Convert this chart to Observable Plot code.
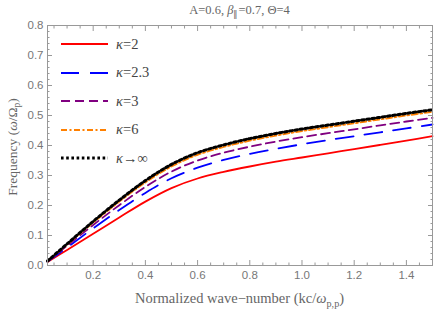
<!DOCTYPE html>
<html>
<head>
<meta charset="utf-8">
<script src="https://cdn.jsdelivr.net/npm/d3@7"></script>
<script src="https://cdn.jsdelivr.net/npm/@observablehq/plot@0.6"></script>
<style>
  html, body { margin: 0; padding: 0; background: #fff; }
  #wrap { position: relative; width: 436px; height: 311px; font-family: "Liberation Serif", "Times New Roman", serif; color: #666; }
  .ovl { position: absolute; white-space: nowrap; font-family: "Liberation Serif", "Times New Roman", serif; }
  #title { left: 47px; top: 3px; width: 385px; text-align: center; font-size: 12.5px; }
  #xlab { top: 290px; left: 47px; width: 385px; text-align: center; font-size: 14.5px; }
  #ylab { left: 13px; top: 147px; transform: translate(-50%, -50%) rotate(-90deg); font-size: 13.5px; }
  #legend { left: 58px; top: 30px; }
  .row { height: 28.5px; display: flex; align-items: center; }
  .row svg { margin-right: 5px; }
  .row span { font-size: 14.5px; color: #444; font-family: "Liberation Serif", "Times New Roman", serif; }
  sub { font-size: 70%; vertical-align: -0.35em; line-height: 0; }
</style>
</head>
<body>
<div id="wrap">
  <div id="plot"></div>
  <div class="ovl" id="title">A=0.6, <i>β</i><sub>∥</sub>=0.7, Θ=4</div>
  <div class="ovl" id="xlab">Normalized wave−number  (kc/<i>ω</i><sub>p,p</sub>)</div>
  <div class="ovl" id="ylab">Frequency (<i>ω</i>/Ω<sub>p</sub>)</div>
  <div class="ovl" id="legend"></div>
</div>
<script>
// wave-number grid
const k = [0.025, 0.1, 0.2, 0.3, 0.4, 0.5, 0.6, 0.7, 0.8, 0.9, 1.0, 1.1, 1.2, 1.3, 1.4, 1.5];
// frequencies for each kappa
const kappa2   = [0.012, 0.052, 0.106, 0.160, 0.213, 0.258, 0.290, 0.312, 0.330, 0.346, 0.360, 0.374, 0.388, 0.402, 0.416, 0.431];
const kappa23  = [0.013, 0.060, 0.124, 0.185, 0.242, 0.291, 0.326, 0.352, 0.372, 0.389, 0.404, 0.418, 0.431, 0.444, 0.457, 0.470];
const kappa3   = [0.014, 0.066, 0.135, 0.201, 0.262, 0.313, 0.350, 0.376, 0.396, 0.413, 0.428, 0.441, 0.454, 0.467, 0.480, 0.492];
const kappa6   = [0.015, 0.070, 0.143, 0.213, 0.277, 0.330, 0.369, 0.395, 0.416, 0.433, 0.448, 0.461, 0.474, 0.487, 0.500, 0.512];
const kappaInf = [0.015, 0.072, 0.147, 0.218, 0.283, 0.337, 0.376, 0.402, 0.423, 0.440, 0.455, 0.468, 0.481, 0.494, 0.507, 0.519];
const legendLabels = ["κ=2", "κ=2.3", "κ=3", "κ=6", "κ→∞"];
const xMajor = [0.2, 0.4, 0.6, 0.8, 1.0, 1.2, 1.4];
const yMajor = [0.0, 0.1, 0.2, 0.3, 0.4, 0.5, 0.6, 0.7, 0.8];

const xMinor = d3.range(0.05, 1.5001, 0.05).map(v => +v.toFixed(2)).filter(v => !xMajor.some(m => Math.abs(m - v) < 1e-6));
const yMinor = d3.range(0.02, 0.8, 0.02).map(v => +v.toFixed(2)).filter(v => !yMajor.some(m => Math.abs(m - v) < 1e-6));

const styles = [
  {stroke: "#ff0000", dash: null, width: 1.8},
  {stroke: "#0000ff", dash: "18,11", width: 1.8},
  {stroke: "#800080", dash: "9,5", width: 1.8},
  {stroke: "#ff8000", dash: "6,2.5,2,2.5", width: 1.8},
  {stroke: "#000000", dash: "2.6,2.6", width: 3}
];
const seriesVals = [kappa2, kappa23, kappa3, kappa6, kappaInf];

const lines = seriesVals.map((vals, s) => Plot.line(k.map((x, i) => ({k: x, w: vals[i]})), {
  x: "k", y: "w", curve: "catmull-rom",
  stroke: styles[s].stroke, strokeWidth: styles[s].width, strokeDasharray: styles[s].dash
}));

const axisCol = "#999";
const txtCol = "#777";
const tickFont = "Liberation Sans, Arial, sans-serif";

const chart = Plot.plot({
  width: 436, height: 311,
  marginLeft: 47, marginRight: 4, marginTop: 25, marginBottom: 46,
  x: {domain: [0.025, 1.5]},
  y: {domain: [0, 0.8]},
  style: {fontFamily: tickFont, fontSize: "11.5px", color: txtCol, background: "#fff"},
  marks: [
    Plot.axisX({anchor: "bottom", ticks: xMajor, tickSize: 0, tickPadding: 5, tickFormat: d => d.toFixed(1), label: null, fill: txtCol}),
    Plot.axisY({anchor: "left", ticks: yMajor, tickSize: 0, tickPadding: 4, tickFormat: d => d.toFixed(1), label: null, fill: txtCol}),
    Plot.axisX({anchor: "bottom", ticks: xMajor, tickSize: -5, tickFormat: () => "", label: null, stroke: axisCol}),
    Plot.axisX({anchor: "bottom", ticks: xMinor, tickSize: -2.5, tickFormat: () => "", label: null, stroke: axisCol}),
    Plot.axisX({anchor: "top", ticks: xMajor, tickSize: -5, tickFormat: () => "", label: null, stroke: axisCol}),
    Plot.axisX({anchor: "top", ticks: xMinor, tickSize: -2.5, tickFormat: () => "", label: null, stroke: axisCol}),
    Plot.axisY({anchor: "left", ticks: yMajor, tickSize: -5, tickFormat: () => "", label: null, stroke: axisCol}),
    Plot.axisY({anchor: "left", ticks: yMinor, tickSize: -2.5, tickFormat: () => "", label: null, stroke: axisCol}),
    Plot.axisY({anchor: "right", ticks: yMajor, tickSize: -5, tickFormat: () => "", label: null, stroke: axisCol}),
    Plot.axisY({anchor: "right", ticks: yMinor, tickSize: -2.5, tickFormat: () => "", label: null, stroke: axisCol}),
    ...lines,
    Plot.frame({stroke: axisCol})
  ]
});
document.getElementById("plot").appendChild(chart);

// legend
const leg = d3.select("#legend");
legendLabels.forEach((lab, i) => {
  const row = leg.append("div").attr("class", "row");
  const svg = row.append("svg").attr("width", 53).attr("height", 6);
  svg.append("line").attr("x1", 3).attr("x2", 50).attr("y1", 3).attr("y2", 3)
    .attr("stroke", styles[i].stroke).attr("stroke-width", styles[i].width)
    .attr("stroke-dasharray", styles[i].dash);
  const span = row.append("span");
  span.append("i").text(lab.slice(0, 1));
  span.append("span").text(lab.slice(1));
});
</script>
</body>
</html>
